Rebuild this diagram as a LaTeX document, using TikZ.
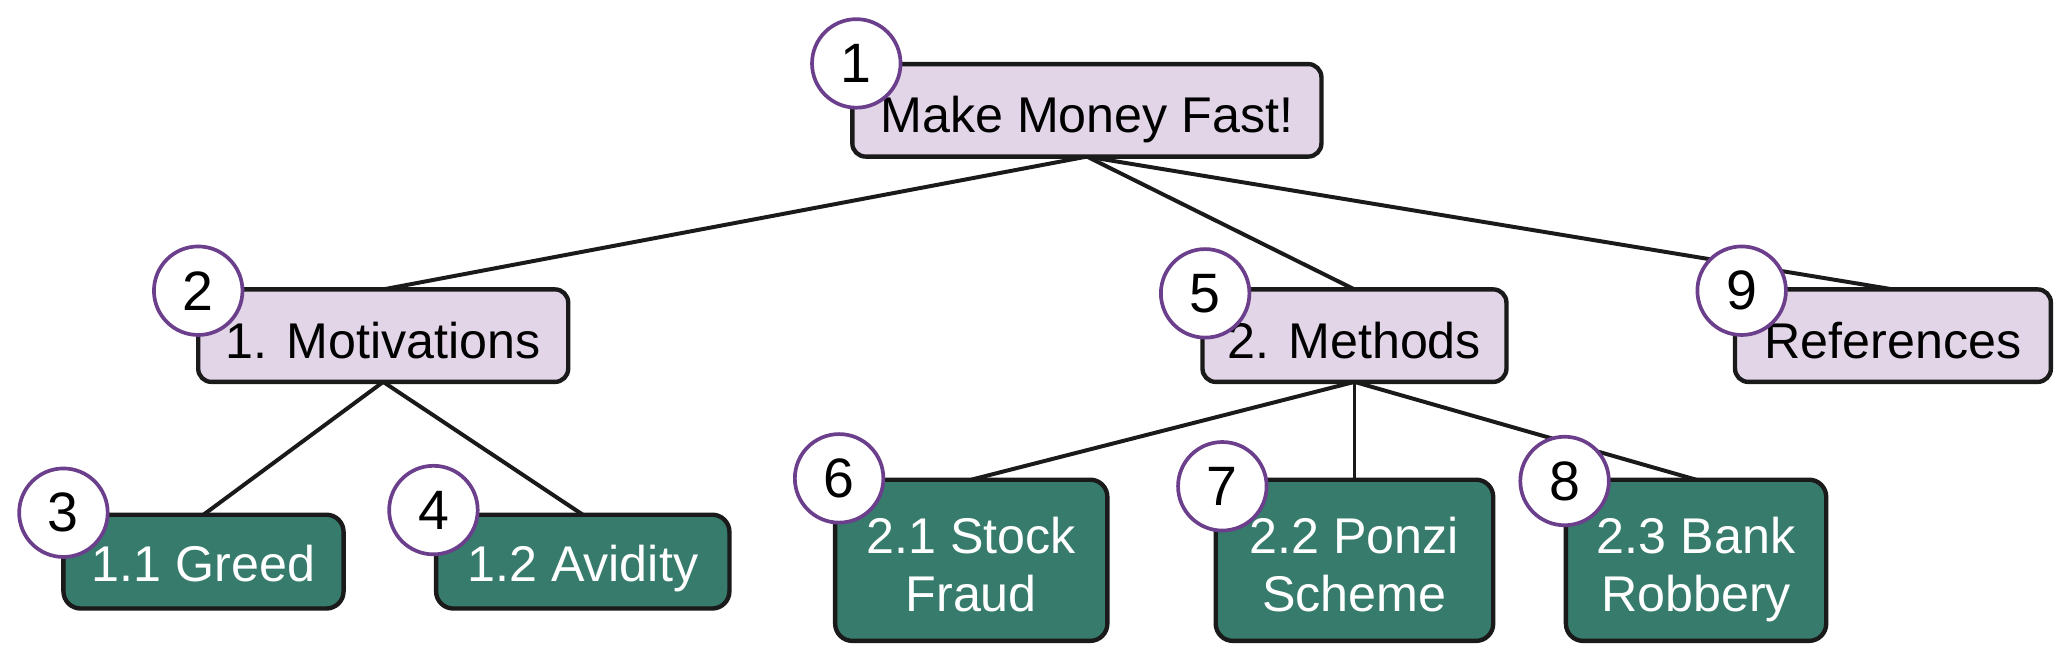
\documentclass[tikz,border=0pt]{standalone}
\usepackage{fontspec}
\setmainfont{Liberation Sans}
\usetikzlibrary{backgrounds}
\definecolor{boxpurple}{HTML}{E1D5E7}
\definecolor{boxgreen}{HTML}{367B6B}
\definecolor{ringpurple}{HTML}{6B3F8C}
\definecolor{edgeblack}{HTML}{1A1A1A}
\newcommand{\onel}[2]{\raisebox{0pt}[#1][5pt]{#2}}
\newcommand{\twol}[2]{\raisebox{0pt}[5pt][16pt]{\begin{tabular}[t]{@{}c@{}}#1\\#2\end{tabular}}}
\begin{document}
\begin{tikzpicture}[x=1pt,y=-1pt,
  every node/.style={font=\fontsize{38}{44}\selectfont, inner sep=0pt, outer sep=0pt},
  lvbox/.style={draw=edgeblack, line width=3.3pt, rounded corners=10pt, fill=boxpurple, text=black, minimum height=70pt},
  grbox/.style={draw=edgeblack, line width=3.3pt, rounded corners=13pt, fill=boxgreen, text=white},
  badge/.style={circle, draw=ringpurple, line width=2.8pt, fill=white, minimum size=67pt, text=black, font=\fontsize{42}{48}\selectfont},
  conn/.style={draw=edgeblack, line width=3pt}]
\useasboundingbox (0,0) rectangle (1568,502.5);
% boxes
\node[lvbox, minimum width=355pt] (root) at (822.5,83.5) {\onel{39pt}{Make Money Fast!}};
\node[lvbox, minimum width=280pt] (mot) at (290,254) {\onel{39pt}{1. Motivations}};
\node[lvbox, minimum width=230pt] (met) at (1025,254) {\onel{39pt}{2. Methods}};
\node[lvbox, minimum width=239pt] (ref) at (1432.5,254) {\onel{39pt}{References}};
\node[grbox, minimum width=212pt, minimum height=71pt] (greed) at (154,425) {\onel{35pt}{1.1 Greed}};
\node[grbox, minimum width=222pt, minimum height=71pt] (avid) at (441,425) {\onel{35pt}{1.2 Avidity}};
\node[grbox, minimum width=206pt, minimum height=122pt] (stock) at (735,424) {\twol{2.1 Stock}{Fraud}};
\node[grbox, minimum width=210pt, minimum height=122pt] (ponzi) at (1025,424) {\twol{2.2 Ponzi}{Scheme}};
\node[grbox, minimum width=197pt, minimum height=122pt] (bank) at (1283.5,424) {\twol{2.3 Bank}{Robbery}};
% connectors
\begin{scope}[on background layer]
\draw[conn] (root.south) -- (mot.north);
\draw[conn] (root.south) -- (met.north);
\draw[conn] (root.south) -- (ref.north);
\draw[conn] (mot.south) -- (greed.north);
\draw[conn] (mot.south) -- (avid.north);
\draw[conn] (met.south) -- (stock.north);
\draw[conn] (met.south) -- (ponzi.north);
\draw[conn] (met.south) -- (bank.north);
\end{scope}
% badges
\node[badge] (b1) at (648,48) {1};
\node[badge] (b2) at (150,220) {2};
\node[badge] (b3) at (48,388) {3};
\node[badge] (b4) at (328,386) {4};
\node[badge] (b5) at (912,222) {5};
\node[badge] (b6) at (635,362) {6};
\node[badge] (b7) at (925,368) {7};
\node[badge] (b8) at (1184,364) {8};
\node[badge] (b9) at (1318,220) {9};
\end{tikzpicture}
\end{document}
